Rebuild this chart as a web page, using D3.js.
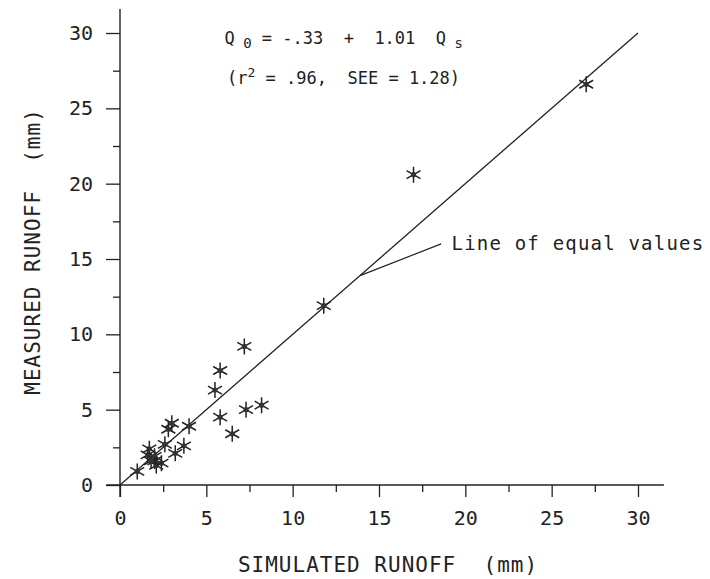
<!DOCTYPE html>
<html>
<head>
<meta charset="utf-8">
<script src="https://cdn.jsdelivr.net/npm/d3@7"></script>
<style>
  body { margin: 0; background: #fff; }
  text { font-family: "DejaVu Sans Mono", monospace; fill: #222; }
</style>
</head>
<body>
<div id="chart"></div>
<script>
// runoff per storm, mm
var simulated = [1.0, 1.7, 1.6, 2.0, 2.0, 2.4, 2.1, 1.8, 2.6, 2.8, 3.0, 3.2, 3.7, 4.0,
                 5.5, 5.8, 5.8, 6.5, 7.3, 8.2, 7.2, 11.8, 17.0, 27.0];
var measured  = [0.9, 2.4, 2.0, 1.6, 1.9, 1.45, 1.3, 1.6, 2.7, 3.7, 4.1, 2.1, 2.6, 3.9,
                 6.3, 7.6, 4.5, 3.4, 5.0, 5.3, 9.2, 11.9, 20.6, 26.6];
var majorTicks = [0, 5, 10, 15, 20, 25, 30];
var minorTicks = [2.5, 7.5, 12.5, 17.5, 22.5, 27.5];
var equalLine = [0, 30];

var w = 710;
var h = 579;

var svg = d3.select("#chart")
  .append("svg")
  .attr("width", w)
  .attr("height", h);

var x = d3.scaleLinear().domain([0, 30]).range([120, 638]);
var y = d3.scaleLinear().domain([0, 30]).range([485, 33]);

// axis lines run a little past the origin, as the plotter drew them
svg.append("line")
  .attr("x1", x(-0.8)).attr("x2", x(31.5))
  .attr("y1", y(0)).attr("y2", y(0))
  .attr("stroke", "#222").attr("stroke-width", 1.4);
svg.append("line")
  .attr("x1", x(0)).attr("x2", x(0))
  .attr("y1", y(-0.8)).attr("y2", y(31.6))
  .attr("stroke", "#222").attr("stroke-width", 1.4);

var xAxis = svg.append("g")
  .attr("transform", "translate(0," + y(0) + ")")
  .call(d3.axisBottom(x).tickValues(majorTicks).tickSize(12).tickPadding(14));
var xMinor = svg.append("g")
  .attr("transform", "translate(0," + y(0) + ")")
  .call(d3.axisBottom(x).tickValues(minorTicks).tickSize(7).tickFormat(""));
var yAxis = svg.append("g")
  .attr("transform", "translate(" + x(0) + ",0)")
  .call(d3.axisLeft(y).tickValues(majorTicks).tickSize(14).tickPadding(13));
var yMinor = svg.append("g")
  .attr("transform", "translate(" + x(0) + ",0)")
  .call(d3.axisLeft(y).tickValues(minorTicks).tickSize(7).tickFormat(""));

[xAxis, xMinor, yAxis, yMinor].forEach(function(g) {
  g.select(".domain").remove();
  g.selectAll("line").attr("stroke", "#222").attr("stroke-width", 1.3);
  g.selectAll("text")
    .attr("font-family", "DejaVu Sans Mono, monospace")
    .attr("font-size", "20px")
    .attr("fill", "#222");
});

// line of equal values
svg.append("line")
  .attr("x1", x(equalLine[0])).attr("y1", y(equalLine[0]))
  .attr("x2", x(equalLine[1])).attr("y2", y(equalLine[1]))
  .attr("stroke", "#222").attr("stroke-width", 1.3);

// leader to the label
svg.append("line")
  .attr("x1", x(13.9)).attr("y1", y(13.9))
  .attr("x2", x(18.6)).attr("y2", y(16.0))
  .attr("stroke", "#222").attr("stroke-width", 1.2);
svg.append("text")
  .attr("x", x(19.2)).attr("y", y(16.0) + 6)
  .attr("font-size", "19px")
  .attr("letter-spacing", "1.2")
  .text("Line of equal values");

// asterisk markers
var r = 8;
var star = "M0," + (-r) + "L0," + r +
  "M" + (-r * 0.87) + "," + (-r / 2) + "L" + (r * 0.87) + "," + (r / 2) +
  "M" + (-r * 0.87) + "," + (r / 2) + "L" + (r * 0.87) + "," + (-r / 2);

var pts = svg.selectAll("g.pt")
  .data(simulated.map(function(d, i) { return { s: d, m: measured[i] }; }))
  .enter()
  .append("g")
  .attr("class", "pt")
  .attr("transform", function(d) { return "translate(" + x(d.s) + "," + y(d.m) + ")"; });
pts.append("path")
  .attr("d", star)
  .attr("stroke", "#222").attr("stroke-width", 1.5).attr("fill", "none");
pts.append("circle")
  .attr("r", 2.6)
  .attr("fill", "#333");

// regression annotation
var eq = svg.append("text")
  .attr("x", x(6.05)).attr("y", y(29.3))
  .attr("font-size", "17px")
  .attr("xml:space", "preserve");
eq.append("tspan").text("Q");
eq.append("tspan").attr("dy", 4).attr("font-size", "14px").text(" 0");
eq.append("tspan").attr("dy", -4).text(" = -.33  +  1.01  Q");
eq.append("tspan").attr("dy", 4).attr("font-size", "14px").text(" s");

var fit = svg.append("text")
  .attr("x", x(6.2)).attr("y", y(26.6))
  .attr("font-size", "17px")
  .attr("xml:space", "preserve");
fit.append("tspan").text("(r");
fit.append("tspan").attr("dy", -7).attr("font-size", "13px").text("2");
fit.append("tspan").attr("dy", 7).text(" = .96,  SEE = 1.28)");

// axis titles
svg.append("text")
  .attr("x", 388).attr("y", 572)
  .attr("text-anchor", "middle")
  .attr("font-size", "21px")
  .attr("letter-spacing", "1")
  .attr("xml:space", "preserve")
  .text("SIMULATED RUNOFF  (mm)");

svg.append("text")
  .attr("transform", "translate(40," + y(15.5) + ") rotate(-90)")
  .attr("text-anchor", "middle")
  .attr("font-size", "21px")
  .attr("letter-spacing", "1")
  .attr("xml:space", "preserve")
  .text("MEASURED RUNOFF  (mm)");
</script>
</body>
</html>
